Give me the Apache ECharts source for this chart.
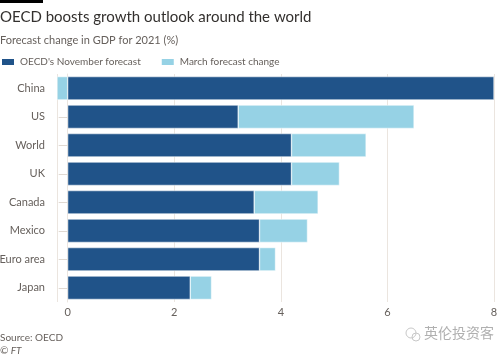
<!DOCTYPE html>
<html>
<head>
<meta charset="utf-8">
<script src="https://cdn.jsdelivr.net/npm/echarts@6/dist/echarts.min.js"></script>
<style>
html,body{margin:0;padding:0;background:#fff;}
#chart{width:500px;height:357px;}
</style>
</head>
<body>
<div id="chart"></div>
<script>
var categories = ['China', 'US', 'World', 'UK', 'Canada', 'Mexico', 'Euro area', 'Japan'];
var novemberForecast = [8.0, 3.2, 4.2, 4.2, 3.5, 3.6, 3.6, 2.3];
var marchChange = [-0.2, 3.3, 1.4, 0.9, 1.2, 0.9, 0.3, 0.4];
var xTickLabels = ['0', '2', '4', '6', '8'];

var FONT = 'Lato';
var chart = echarts.init(document.getElementById('chart'), null, {renderer: 'canvas'});
var option = {
  backgroundColor: '#ffffff',
  animation: false,
  textStyle: {fontFamily: FONT},
  title: [
    {text: 'OECD boosts growth outlook around the world', left: -5, top: 5,
     textStyle: {fontFamily: FONT, fontSize: 15, fontWeight: 'normal', color: '#33302e'}},
    {text: 'Forecast change in GDP for 2021 (%)', left: -5, top: 30,
     textStyle: {fontFamily: FONT, fontSize: 11, fontWeight: 'normal', color: '#66605c'}}
  ],
  legend: {
    left: -5, top: 52, itemWidth: 14, itemHeight: 8, itemGap: 19, icon: 'rect',
    textStyle: {fontFamily: FONT, fontSize: 10, color: '#66605c'},
    data: ["OECD's November forecast", 'March forecast change']
  },
  grid: {left: 57, right: 6, top: 74, bottom: 55, containLabel: false, outerBoundsMode: 'none'},
  xAxis: {
    type: 'value', min: -0.2, max: 8, splitNumber: 4,
    axisLine: {show: false}, axisTick: {show: false},
    splitLine: {show: true, lineStyle: {color: '#ebe5df', width: 1}},
    axisLabel: {
      margin: 5, fontFamily: FONT, fontSize: 11, color: '#66605c',
      formatter: function (v) {
        var s = String(Math.round(v * 10) / 10);
        return xTickLabels.indexOf(s) >= 0 ? s : '';
      }
    }
  },
  yAxis: {
    type: 'category', data: categories, inverse: true,
    axisLine: {show: true, lineStyle: {color: '#ebe5df', width: 1}},
    axisTick: {show: true, alignWithLabel: true, length: 9, lineStyle: {color: '#e0d9d2'}},
    axisLabel: {margin: 12, fontFamily: FONT, fontSize: 11, color: '#66605c'}
  },
  series: [
    {name: "OECD's November forecast", type: 'bar', stack: 'gdp', data: novemberForecast,
     barCategoryGap: '18%',
     itemStyle: {color: '#205389', borderColor: '#ffffff', borderWidth: 0.5}},
    {name: 'March forecast change', type: 'bar', stack: 'gdp', data: marchChange,
     barCategoryGap: '18%',
     itemStyle: {color: '#96d2e5', borderColor: '#ffffff', borderWidth: 0.5}}
  ],
  graphic: [
    {type: 'rect', shape: {x: 0, y: 0, width: 43, height: 3}, style: {fill: '#000000'}},
    {type: 'text', left: 0, top: 333,
     style: {text: 'Source: OECD', font: '10px ' + FONT, fill: '#66605c'}},
    {type: 'text', left: 0, top: 346,
     style: {text: '© FT', font: 'italic 10px ' + FONT, fill: '#66605c'}},
    {type: 'text', left: 424, top: 326,
     style: {text: '英伦投资客', font: '14px "Noto Sans CJK SC"', fill: '#b0b0b0'}},
    {type: 'circle', shape: {cx: 411, cy: 333, r: 5}, style: {fill: 'none', stroke: '#c8c8c8', lineWidth: 1}},
    {type: 'circle', shape: {cx: 416, cy: 337, r: 4}, style: {fill: 'none', stroke: '#c8c8c8', lineWidth: 1}}
  ]
};
chart.setOption(option);
</script>
</body>
</html>
